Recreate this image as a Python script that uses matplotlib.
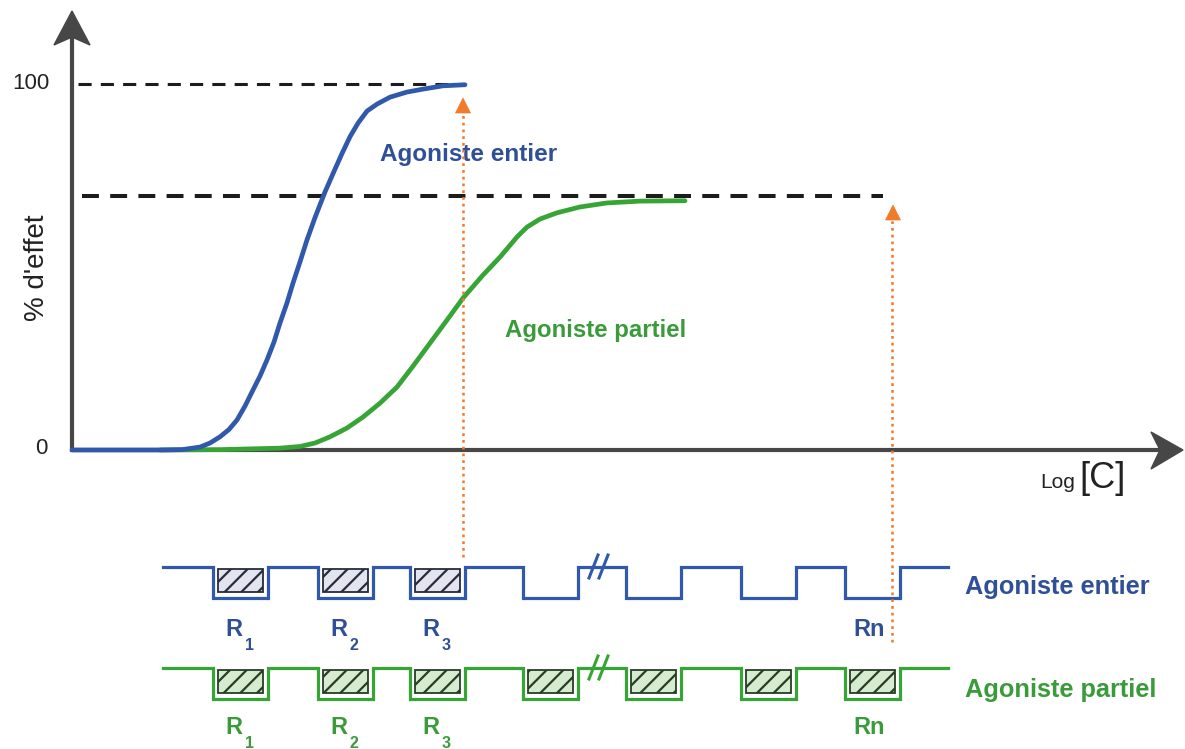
import matplotlib
matplotlib.use("Agg")
import matplotlib.pyplot as plt
from matplotlib.patches import Polygon, Rectangle

plt.rcParams['font.family'] = ['Liberation Sans', 'DejaVu Sans']
plt.rcParams['hatch.linewidth'] = 1.6

# --- Datos ---
# agoniste entier (log C, % d'effet)
logc_entier = [0.00, 0.88, 1.10, 1.28, 1.38, 1.48, 1.57, 1.65, 1.73, 1.81, 1.88,
               1.95, 2.02, 2.08, 2.15, 2.21, 2.28, 2.35, 2.43, 2.53, 2.61, 2.70,
               2.78, 2.86, 2.95, 3.05, 3.18, 3.35, 3.51, 3.71, 3.93]
effet_entier = [0.0, 0.0, 0.1, 0.8, 1.9, 3.6, 5.6, 8.2, 12.0, 16.4, 20.2,
                24.6, 29.5, 34.7, 40.2, 45.6, 51.4, 57.4, 63.5, 70.5, 75.5, 81.0,
                85.6, 89.3, 92.6, 94.5, 96.4, 97.8, 98.6, 99.5, 99.8]

# agoniste partiel
logc_partiel = [0.88, 1.48, 1.78, 2.08, 2.28, 2.43, 2.58, 2.75, 2.91, 3.08,
                3.25, 3.41, 3.58, 3.75, 3.91, 4.11, 4.28, 4.45, 4.55, 4.68,
                4.85, 5.08, 5.35, 5.68, 6.13]
effet_partiel = [0.0, 0.1, 0.3, 0.5, 0.96, 1.9, 3.6, 6.0, 9.0, 12.8,
                 17.2, 22.9, 29.2, 35.5, 41.5, 47.8, 52.7, 58.2, 60.9, 63.1,
                 64.8, 66.4, 67.5, 68.0, 68.1]

emax_entier = 100
emax_partiel = 69.4
logc_emax = [3.91, 8.20]     # lignes pointillees oranges

# recepteurs occupes (1) ou libres (0)
occup_entier = [1, 1, 1, 0, 0, 0, 0]
occup_partiel = [1, 1, 1, 1, 1, 1, 1]
noms_recept = ["1", "2", "3", "", "", "", "n"]

# couleurs
BLEU = "#3159ab"
BLEU_TXT = "#2f4f96"
VERT = "#36a535"
VERT_TXT = "#3a9b3a"
ORANGE = "#f07b2b"
GRIS = "#474747"

fig = plt.figure(figsize=(11.85, 7.49), dpi=100)

# ax2: coordonnees pixel pour le schema ; ax: donnees de la courbe
ax2 = fig.add_axes([0, 0, 1, 1])
ax2.set_xlim(0, 1185)
ax2.set_ylim(749, 0)
ax2.axis('off')

ax = fig.add_axes([0, 0, 1, 1])
ax.set_xlim(-0.72, 11.13)
ax.set_ylim(-81.7, 122.95)
ax.axis('off')
ax.patch.set_alpha(0)

# axes avec fleches
ax2.plot([72, 72], [452, 36], color=GRIS, lw=3, solid_capstyle='butt', zorder=1)
ax2.plot([70, 1165], [450, 450], color=GRIS, lw=3, solid_capstyle='butt', zorder=1)
ax2.add_patch(Polygon([[72, 11], [54, 45], [72, 37], [90, 45]], closed=True,
                      facecolor=GRIS, edgecolor=GRIS, lw=1, zorder=2))
ax2.add_patch(Polygon([[1183, 450], [1151, 432], [1160, 450], [1151, 469]], closed=True,
                      facecolor=GRIS, edgecolor=GRIS, lw=1, zorder=2))

# lignes de plateau
ax.hlines(emax_entier, 0.06, logc_entier[-1] - 0.1, color="#1c1c1c", lw=2.2,
          linestyles=[(0, (4.3, 3.0))], zorder=2)
ax.hlines(emax_partiel, 0.10, 8.11, color="#1c1c1c", lw=2.9,
          linestyles=[(0, (4.2, 2.8))], zorder=2)

# courbes
ax.plot(logc_entier, effet_entier, color=BLEU, lw=3.4, solid_capstyle='round',
        solid_joinstyle='round', zorder=4)
ax.plot(logc_partiel, effet_partiel, color=VERT, lw=3.4, solid_capstyle='round',
        solid_joinstyle='round', zorder=3)

# pointilles oranges
ax.plot([logc_emax[0]] * 2, [95, -29.5], color=ORANGE, lw=1.8,
        ls=(0, (1.1, 1.6)), zorder=5)
ax.plot([logc_emax[1]] * 2, [64.5, -53.6], color=ORANGE, lw=1.8,
        ls=(0, (1.1, 1.6)), zorder=5)
for x, y in [(463, 98), (893, 205)]:
    ax2.add_patch(Polygon([[x, y], [x - 7.5, y + 15], [x + 7.5, y + 15]], closed=True,
                          facecolor=ORANGE, edgecolor=ORANGE, lw=0.5, zorder=6))

# textes du graphique
ax.text(-0.22, 100, "100", ha='right', va='center', fontsize=16, color="#222222")
ax.text(-0.24, 0.5, "0", ha='right', va='center', fontsize=16, color="#222222")
ax2.text(37, 268, "% d'effet", rotation=90, ha='center', va='center',
         fontsize=20, color="#222222")
ax2.text(380, 155, "Agoniste entier", ha='left', va='center', fontsize=17.5,
         fontweight='bold', color=BLEU_TXT)
ax2.text(505, 330, "Agoniste partiel", ha='left', va='center', fontsize=17.3,
         fontweight='bold', color=VERT_TXT)
ax2.text(1040, 488, "Log", ha='left', va='baseline', fontsize=15, color="#222222")
ax2.text(1079, 488, "[C]", ha='left', va='baseline', fontsize=26, color="#222222")

# --- schema des recepteurs ---
sites = [213, 318, 410, 523, 626, 741, 845]
larg = 55
prof = 31


def rangee(y0, occup, couleur, fond, bord, y_r, y_sub, couleur_txt):
    xs = [163]
    ys = [y0]
    for l in sites:
        xs += [l, l, l + larg, l + larg]
        ys += [y0, y0 + prof, y0 + prof, y0]
    xs.append(948)
    ys.append(y0)
    ax2.plot(xs, ys, color=couleur, lw=2.3, solid_joinstyle='miter', zorder=3)
    for l, occ, nom in zip(sites, occup, noms_recept):
        if occ:
            ax2.add_patch(Rectangle((l + 5, y0 + 1.5), larg - 10, prof - 8,
                                    facecolor=fond, edgecolor=bord, hatch='//',
                                    lw=1.3, zorder=4))
        if nom == "n":
            ax2.text(l + 8, y_r, "Rn", ha='left', va='baseline', fontsize=17,
                     fontweight='bold', color=couleur_txt)
        elif nom:
            ax2.text(l + 12, y_r, "R", ha='left', va='baseline', fontsize=17,
                     fontweight='bold', color=couleur_txt)
            ax2.text(l + 32, y_sub, nom, ha='left', va='baseline', fontsize=11.5,
                     fontweight='bold', color=couleur_txt)
    # marque de coupure //
    for dx in (0, 10):
        ax2.plot([589 + dx, 598 + dx], [y0 + 11, y0 - 12], color=couleur, lw=2.2,
                 zorder=5)


rangee(567, occup_entier, BLEU, "#e3e4ee", "#262c3d", 636, 650, BLEU_TXT)
rangee(668, occup_partiel, VERT, "#d6ebd0", "#263d26", 734, 748, VERT_TXT)

ax2.text(965, 587, "Agoniste entier", ha='left', va='center', fontsize=18.3,
         fontweight='bold', color=BLEU_TXT)
ax2.text(965, 690, "Agoniste partiel", ha='left', va='center', fontsize=18.3,
         fontweight='bold', color=VERT_TXT)

fig.savefig("out.png", dpi=100)
